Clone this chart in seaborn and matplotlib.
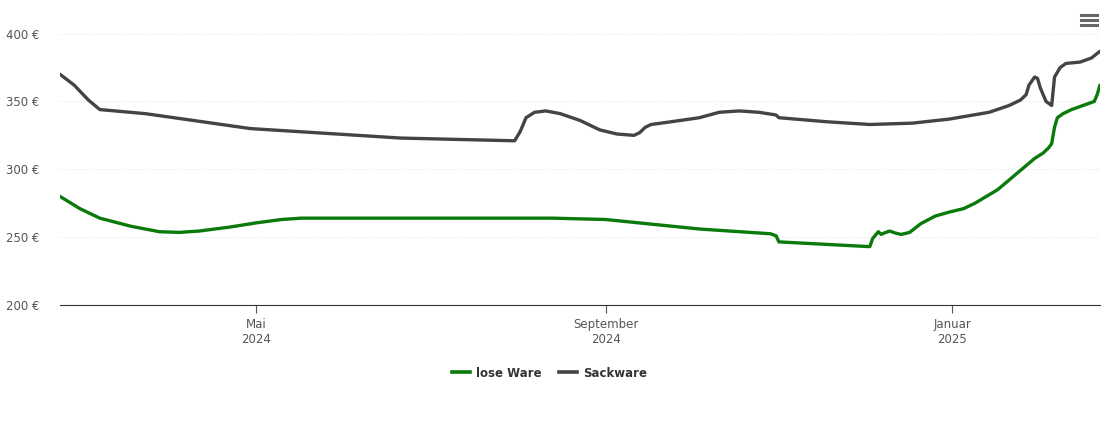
import matplotlib
matplotlib.use("Agg")
import matplotlib.pyplot as plt
import seaborn as sns
import pandas as pd
from matplotlib.lines import Line2D

start = pd.Timestamp("2024-02-22")
sack_days = [0, 5, 10, 14, 30, 67, 120, 160, 162, 164, 167, 171, 176, 183, 190, 196, 202, 204, 206, 208, 215, 225, 232, 239, 246, 252, 253, 270, 285, 300, 313, 327, 334, 338, 340, 341, 343, 344, 345, 347, 349, 350, 352, 354, 359, 363, 366]
sack_vals = [370, 362, 351, 344, 341, 330, 323, 321, 328, 338, 342, 343, 341, 336, 329, 326, 325, 327, 331, 333, 335, 338, 342, 343, 342, 340, 338, 335, 333, 334, 337, 342, 347, 351, 355, 362, 368, 367, 360, 350, 347, 368, 375, 378, 379, 382, 387]
lose_days = [0, 7, 14, 25, 35, 42, 49, 60, 69, 78, 85, 100, 173, 192, 225, 250, 252, 253, 285, 286, 288, 289, 290, 292, 294, 296, 299, 303, 308, 313, 318, 322, 330, 343, 346, 348, 349, 350, 351, 353, 356, 364, 365, 366]
lose_vals = [280, 271, 264, 258, 254, 253.5, 254.5, 257.5, 260.5, 263, 264, 264, 264, 263, 256, 252.5, 251, 246.5, 243, 249, 254, 252, 253, 254.5, 253, 252, 253.5, 260, 265.5, 268.5, 271, 275, 285, 308, 312, 316, 319, 331, 338, 341, 344, 350, 355, 362]

df = pd.concat([
    pd.DataFrame({"date": [start + pd.Timedelta(days=d) for d in lose_days], "value": lose_vals, "series": "lose Ware"}),
    pd.DataFrame({"date": [start + pd.Timedelta(days=d) for d in sack_days], "value": sack_vals, "series": "Sackware"}),
])

fig = plt.figure(figsize=(11.1, 4.23), dpi=100)
ax = fig.add_axes([60/1110, 1-305/423, 1040/1110, 285/423])
sns.lineplot(data=df, x="date", y="value", hue="series", palette={"lose Ware": "#0a7a0a", "Sackware": "#444444"},
             linewidth=2.4, ax=ax, legend=False, solid_joinstyle="round", solid_capstyle="round")
ax.set_xlim(start, start + pd.Timedelta(days=366))
ax.set_ylim(200, 410)
ticks = [200, 250, 300, 350, 400]
ax.set_yticks(ticks)
ax.set_yticklabels([f"{v} €" for v in ticks], fontsize=8.5, color="#555555")
ax.set_xticks([pd.Timestamp("2024-05-01"), pd.Timestamp("2024-09-01"), pd.Timestamp("2025-01-01")])
ax.set_xticklabels(["Mai\n2024", "September\n2024", "Januar\n2025"], fontsize=8.5, color="#555555")
ax.tick_params(axis="y", length=0, pad=15)
ax.tick_params(axis="x", length=6, color="#555555")
ax.grid(axis="y", color="#e6e6e6", linestyle=":", linewidth=0.8)
ax.set_axisbelow(True)
for s in ["top", "right", "left"]:
    ax.spines[s].set_visible(False)
ax.spines["bottom"].set_color("#333333")
ax.set_xlabel(""); ax.set_ylabel("")

handles = [Line2D([], [], color="#0a7a0a", lw=2.6), Line2D([], [], color="#444444", lw=2.6)]
fig.legend(handles, ["lose Ware", "Sackware"], loc="center", bbox_to_anchor=(0.495, 1-373/423), ncol=2,
           frameon=False, handlelength=1.5, columnspacing=1.5, handletextpad=0.5,
           prop={"weight": "bold", "size": 8.5}, labelcolor="#333333")
for i in range(3):
    fig.add_artist(Line2D([1081/1110, 1097/1110], [1-(15+5*i)/423]*2, color="#666666", lw=2.2))
fig.savefig("out.png")
